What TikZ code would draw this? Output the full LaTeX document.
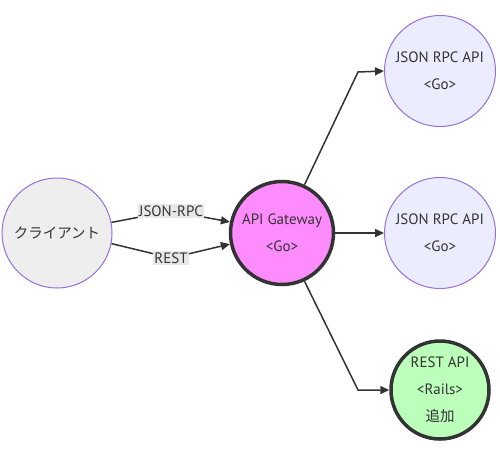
\documentclass[tikz,border=0pt]{standalone}
\usepackage{fontspec}
\setmainfont{PT Sans}
\newfontfamily\jpfont{Noto Sans CJK JP}
\usetikzlibrary{arrows.meta}
\definecolor{txt}{HTML}{333333}
\definecolor{lavfill}{HTML}{ECECFF}
\definecolor{lavline}{HTML}{9370DB}
\definecolor{clientfill}{HTML}{EEEEEE}
\definecolor{gwfill}{HTML}{FF8CFF}
\definecolor{restfill}{HTML}{BBFFBB}
\definecolor{lblbg}{HTML}{E8E8E8}
\definecolor{dark}{HTML}{333333}
\begin{document}
\begin{tikzpicture}[x=1pt,y=-1pt,
  nodefont/.style={font=\fontsize{15}{27}\selectfont, text=txt, align=center},
  circ/.style={circle, inner sep=0pt, nodefont},
  lav/.style={circ, fill=lavfill, draw=lavline, line width=1pt, minimum size=111pt},
  client/.style={circ, fill=clientfill, draw=lavline, line width=1pt, minimum size=110pt},
  gw/.style={circ, fill=gwfill, draw=dark, line width=3.5pt, minimum size=103pt},
  rest/.style={circ, fill=restfill, draw=dark, line width=3.5pt, minimum size=98pt},
  conn/.style={draw=dark, line width=1.5pt, -{Triangle[length=9pt,width=8pt]}},
  elabel/.style={fill=lblbg, inner sep=1.5pt, font=\fontsize{15}{16}\selectfont, text=txt}
]
\useasboundingbox (0,0) rectangle (500,448);
\node[client] (cl) at (57,233) {\jpfont\fontsize{14.5}{27}\selectfont クライアント};
\node[gw] (gw) at (282,233) {API Gateway\\<Go>};
\node[lav] (j1) at (440,71) {JSON RPC API\\<Go>};
\node[lav] (j2) at (440,233) {JSON RPC API\\<Go>};
\node[rest] (rs) at (440,390) {REST API\\<Rails>\\{\jpfont\fontsize{14.5}{27}\selectfont 追加}};
\coordinate (lj) at (171,211);
\coordinate (lr) at (171,258);
\coordinate (b1) at (358,72);
\coordinate (b3) at (358,390);
\draw[conn] (cl.11) -- (lj) -- (gw.168);
\draw[conn] (cl.-11) -- (lr) -- (gw.192);
\draw[conn] (gw.65) -- (b1) -- (j1.west);
\draw[conn] (gw.east) -- (j2.west);
\draw[conn] (gw.-65) -- (b3) -- (rs.west);
\node[elabel] (tj) at (lj) {JSON-RPC};
\node[elabel] (tr) at (lr) {REST};
\end{tikzpicture}
\end{document}
